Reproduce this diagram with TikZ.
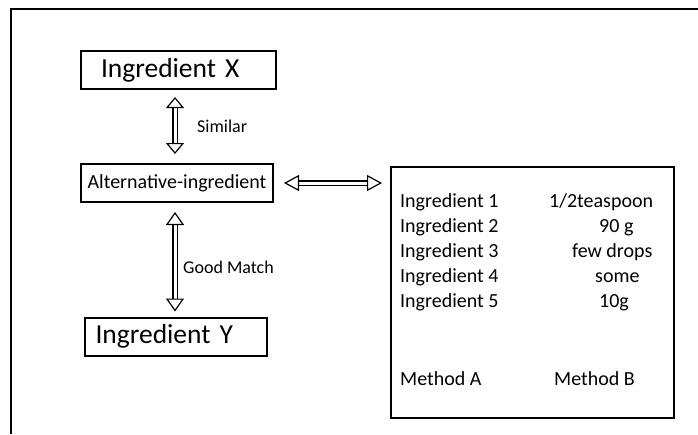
\documentclass[tikz,border=0pt]{standalone}
\usepackage{fontspec}
\setmainfont{Carlito}
\usetikzlibrary{arrows.meta}
\usetikzlibrary{calc}
\usetikzlibrary{positioning}

\tikzset{
  box/.style={draw, line width=2pt, minimum height=38pt, inner ysep=2pt},
  bigtext/.style={font=\fontsize{27.5}{30}\selectfont, align=left},
  lbl/.style={font=\fontsize{18}{20}\selectfont, inner sep=0pt, anchor=west},
  row/.style={font=\fontsize{20}{22}\selectfont, inner sep=0pt, anchor=base west},
  dblarrow/.style={double, double distance=3pt, line width=1.2pt,
    {Triangle[open,length=13pt,width=18pt]}-{Triangle[open,length=13pt,width=18pt]}}
}

\begin{document}
\begin{tikzpicture}[x=1pt, y=-1pt]
  \useasboundingbox (0,0) rectangle (698,434);
  \draw[line width=2pt] (10.5,434) -- (10.5,9) -- (698,9);

  \node[box, bigtext, text width=155pt, inner xsep=20pt] (ingX) at (178.5,70) {Ingredient X};
  \node[box, font=\fontsize{20}{22}\selectfont, minimum width=192pt, inner xsep=2pt] (alt) at (177,183) {Alternative-ingredient};
  \node[box, bigtext, text width=161pt, inner xsep=10.5pt] (ingY) at (176,336.5) {Ingredient Y};
  \node[box, minimum width=283pt, minimum height=251pt] (recipe) at (532.5,292.5) {};

  \foreach \n/\amt/\ax [count=\i] in {1/{1/2teaspoon}/549, 2/{90 g}/599, 3/{few drops}/572, 4/{some}/595, 5/{10g}/599} {
    \node[row] (ing\i) at (400, 207+25.2*\i-25.2) {Ingredient \n};
    \node[row] (amt\i) at (\ax, 207+25.2*\i-25.2) {\amt};
  }
  \node[row] (methA) at (400,385) {Method A};
  \node[row] (methB) at (554,385) {Method B};

  \coordinate (vx) at (175,0);
  \draw[dblarrow, {Triangle[open,length=11pt,width=18pt]}-{Triangle[open,length=11pt,width=18pt]}, shorten <=7pt, shorten >=9pt] (ingX.south -| vx) -- (alt.north -| vx);
  \draw[dblarrow, shorten <=9pt, shorten >=5pt] (alt.south -| vx) -- (ingY.north -| vx);
  \draw[dblarrow, {Triangle[open,length=15pt,width=16pt]}-{Triangle[open,length=15pt,width=16pt]}, shorten <=10pt, shorten >=8pt] (alt.east) -- (alt.east -| recipe.west);

  \node[lbl] (similar) at (197,126) {Similar};
  \node[lbl] (goodmatch) at (183,267) {Good Match};
\end{tikzpicture}
\end{document}
